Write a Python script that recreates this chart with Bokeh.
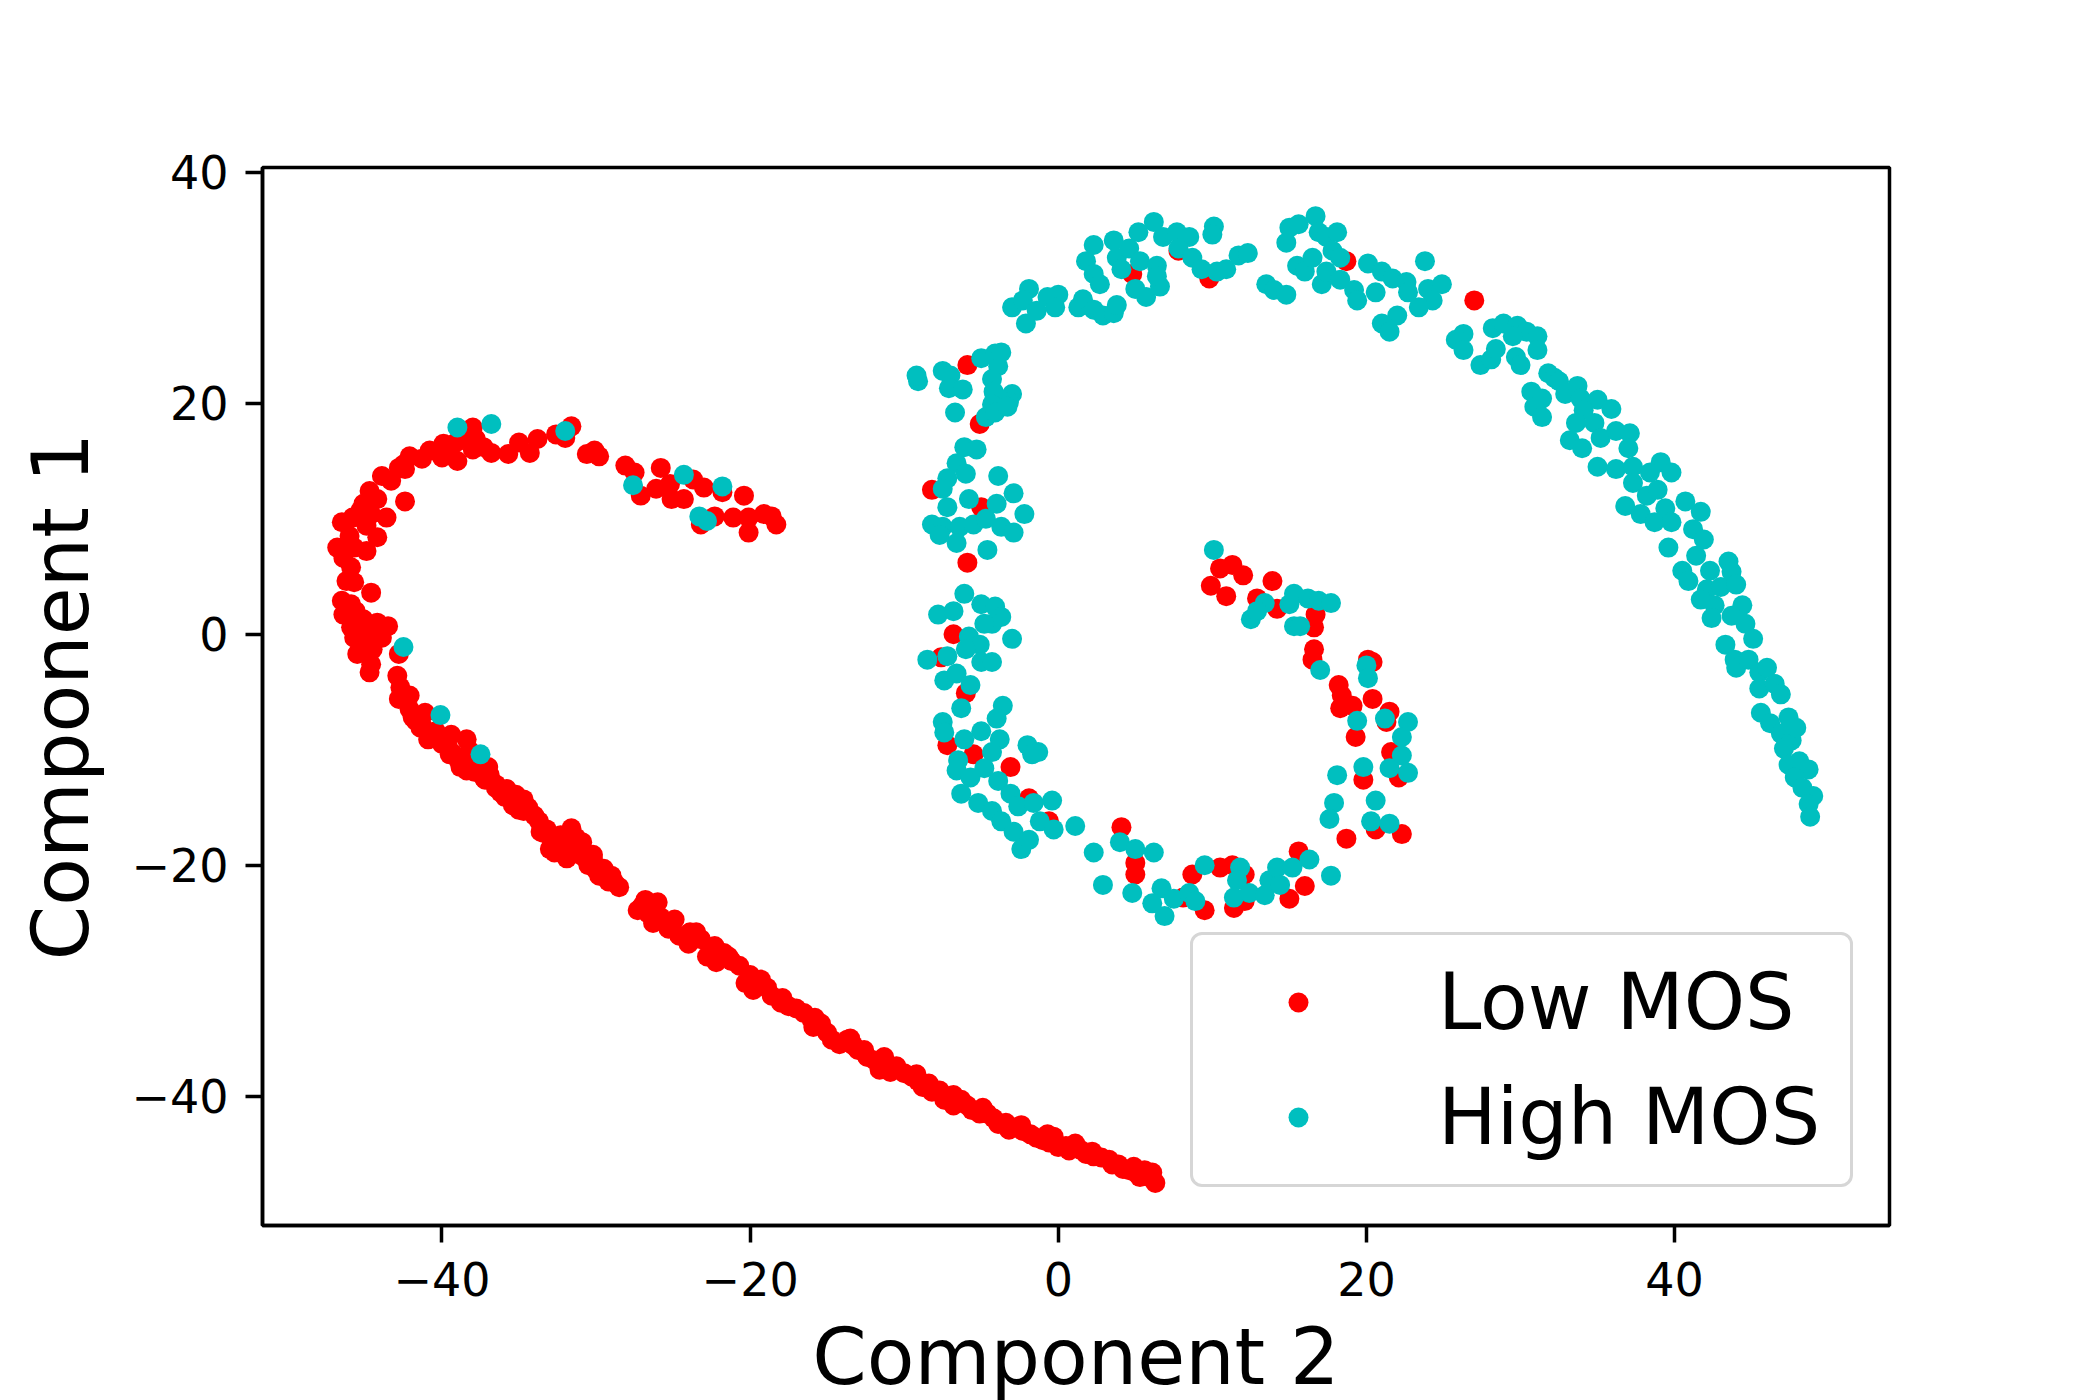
from bokeh.plotting import figure
from bokeh.models import Range1d, FixedTicker, Legend, LegendItem
from bokeh.embed import file_html
from bokeh.resources import INLINE

# ---------------- data ----------------
low_x = [
    -18.3, -18.6, -19.1, -20.1, -20.1, -20.4, -21.1, -21.8, -22.3, -23.2, -23.0, -23.7, -24.3, -25.1,
    -25.2, -25.8, -26.1, -27.1, -27.5, -28.1, -29.8, -30.6, -30.1, -31.6, -32.0, -32.6, -33.8, -34.3,
    -35.0, -35.7, -36.8, -38.0, -37.8, -38.0, -39.0, -39.1, -39.5, -40.0, -40.8, -41.3, -42.1, -42.5,
    -42.4, -42.8, -42.4, -43.3, -43.9, -44.7, -44.2, -45.1, -43.6, -44.6, -45.3, -45.8, -46.5, -44.9,
    -44.2, -46.0, -46.8, -45.7, -44.9, -46.4, -45.9, -46.2, -45.7, -44.6, -46.5, -45.9, -46.4, -45.6,
    -45.1, -45.9, -44.2, -43.5, -44.8, -45.7, -43.9, -45.1, -45.5, -44.5, -44.6, -44.7, -42.8, -42.9,
    -42.7, -42.8, -42.1, -42.1, -41.9, -41.1, -41.3, -40.4, -39.9, -39.4, -39.5, -38.7, -38.4, -38.2,
    -38.4, -37.6, -37.0, -37.3, -36.5, -35.8, -35.2, -34.7, -39.9, -38.4, -37.3,
    -41.4, -40.0, -38.9, -37.9, -36.5, -35.4, -34.0, -33.7, -33.0, -32.3, -31.6, -31.9, -30.9, -30.5,
    -29.5, -28.8, -27.0, -26.0, -26.3, -24.9, -24.6, -23.2, -22.8, -21.7, -20.7, -20.3, -19.3, -18.6,
    -17.5, -16.5, -15.4, -14.7, -13.7, -13.0, -11.9, -11.6, -10.5, -9.5, -8.8, -7.7, -7.4, -6.3,
    -5.6, -4.6, -3.9, -2.8, -1.8, -1.0, -0.3, 0.0, 1.1, 1.8, 2.8, 3.9, 4.6, 5.6, 6.3, 5.3,
    -33.4, -32.7, -31.2, -30.2, -34.8, -29.0,
    -40.8, -39.3, -38.3, -37.2, -35.9, -34.7, -33.2, -32.6, -31.3, -30.9, -30.0, -29.1, -28.5,
    -27.3, -26.6, -25.6, -25.3, -23.9, -24.0, -22.3, -22.2, -21.2, -20.0, -19.8, -18.9, -18.0, -17.0,
    -16.0, -15.9, -15.0, -14.2, -13.3, -12.4, -12.6, -11.2, -10.9, -10.0, -9.1, -8.2, -8.4, -7.0,
    -6.8, -5.9, -5.1, -4.2, -3.4, -3.2, -2.3, -1.4, -0.6, 0.5, 0.7, 1.4, 2.3, 3.3, 3.5, 4.2, 5.0,
    5.9, 6.1, 4.9, 2.2, -0.7, -2.4, -4.9, -6.8, -9.2, -11.3, -13.5, -15.8, -17.9, -19.9, -21.4,
    -23.5, -25.8, -26.8,
    -41.7, -40.9, -39.6, -38.8, -36.9, -36.2, -35.0, -34.4, -33.6, -32.9, -32.0, -31.5, -30.2, -29.8, -29.2,
    -5.9, -5.1, -8.2, -5.0, -5.9, -6.8, -7.6, -6.0, -7.2, -5.5, -3.1, -1.9, -0.6, 4.1, 5.0, 5.0,
    8.1, 9.5, 8.7, 10.5, 11.3, 12.1, 11.4, 12.1, 15.6, 15.0, 16.0,
    10.5, 11.3, 12.0, 9.9, 10.9, 13.9, 12.9, 14.2, 16.7, 16.6, 16.6, 16.5, 20.1, 20.4, 18.2, 18.4,
    18.3, 19.1, 20.4, 19.3, 21.5, 21.3, 21.6, 22.1, 19.8, 20.6, 22.3, 18.7,
    4.8, 7.8, 9.8, 18.7, 27.0,
]
low_y = [
    9.5, 10.2, 10.4, 8.8, 10.1, 12.0, 10.1, 12.3, 10.2, 9.5, 12.7, 13.4, 11.7, 11.7,
    13.0, 14.4, 12.6, 12.0, 14.0, 14.6, 15.4, 15.6, 15.9, 18.0, 17.0, 17.3, 16.9, 15.7,
    16.6, 15.6, 15.7, 17.9, 16.9, 16.0, 15.0, 16.6, 15.9, 15.3, 15.9, 15.2, 15.4, 14.7,
    14.3, 14.4, 11.5, 13.3, 13.7, 12.4, 11.7, 11.3, 10.1, 10.4, 10.7, 10.1, 9.7, 9.4,
    8.4, 8.5, 7.5, 7.5, 7.2, 6.6, 5.8, 4.6, 4.5, 3.6, 2.9, 2.6, 1.7, 2.0,
    1.3, 0.6, 1.0, 0.7, 0.3, -0.3, -0.3, -0.6, -1.7, -1.3, -2.6, -3.3, -1.7, -3.6,
    -4.6, -5.6, -5.3, -6.5, -7.2, -6.8, -7.9, -8.4, -9.2, -8.7, -10.4, -10.8, -9.1, -10.1,
    -11.8, -11.4, -11.5, -12.4, -13.0, -13.4, -13.9, -14.3, 16.5, 17.0, 16.2,
    -8.1, -9.5, -11.0, -11.9, -13.3, -14.8, -15.7, -16.2, -18.6, -17.4, -16.8, -19.4, -18.0, -20.0,
    -20.3, -21.5, -23.5, -23.2, -25.0, -24.7, -26.1, -26.4, -27.9, -27.6, -28.7, -30.2, -29.9, -31.3,
    -32.2, -32.8, -33.7, -35.1, -35.1, -36.0, -36.9, -37.7, -37.4, -38.3, -39.2, -39.5, -40.3, -40.3,
    -41.2, -41.5, -42.4, -42.7, -43.3, -43.8, -43.5, -44.4, -44.1, -45.0, -45.3, -45.9, -46.4, -46.4, -47.5, -47.0,
    -17.2, -18.9, -17.9, -19.1, -15.1, -20.9,
    -8.6, -10.3, -11.2, -12.6, -14.1, -15.3, -16.9, -18.0, -17.6, -19.2, -20.4, -21.0, -21.9,
    -23.9, -24.2, -24.9, -25.5, -25.8, -26.8, -27.0, -28.4, -28.3, -29.5, -30.8, -30.6, -31.9, -32.4,
    -33.4, -34.0, -34.5, -35.5, -35.6, -36.6, -36.0, -37.3, -37.9, -38.0, -38.7, -39.6, -38.9, -40.0,
    -40.8, -40.8, -41.5, -41.9, -42.3, -42.9, -43.0, -43.6, -44.0, -44.3, -44.7, -44.6, -45.2, -45.5, -45.9, -46.3, -46.6,
    -47.0, -46.6, -46.1, -44.8, -43.3, -42.5, -41.0, -39.9, -38.1, -36.6, -35.0, -33.2, -31.5, -29.9, -27.9,
    -25.8, -24.5, -23.0,
    -7.5, -9.1, -9.8, -11.5, -12.2, -13.7, -15.2, -15.0, -17.1, -17.7, -18.5, -19.0, -19.5, -20.9, -21.4,
    23.3, 18.2, 12.5, 11.0, 6.2, 0.0, -2.0, -5.1, -9.6, -10.4, -11.5, -14.2, -16.2, -16.7, -19.8, -20.8,
    -22.8, -23.9, -20.8, -20.2, -20.0, -20.8, -23.7, -23.1, -18.8, -22.9, -21.8,
    5.7, 6.0, 5.1, 4.2, 3.3, 4.6, 3.1, 2.2, 1.7, 0.6, -1.3, -2.2, -2.2, -2.4, -4.4, -5.3,
    -6.4, -6.2, -5.6, -8.9, -6.7, -7.6, -10.2, -12.4, -12.6, -16.9, -17.3, -17.7,
    31.2, 33.2, 30.8, 32.3, 28.9,
]

high_x = [
    -39.0, -36.8, -32.0, -27.6, -24.3, -21.8, -23.3, -22.8, -42.5, -40.1, -37.5,
    -9.1, -9.2, -7.5, -7.0, -7.1, -6.2, -6.7, -5.0, -4.1, -3.9, -4.3, -4.2, -4.3, -3.0, -3.2, -4.7,
    -4.1, -3.7, -3.3,
    -6.1, -5.3, -6.6, -6.0, -7.2, -7.5, -3.9, -2.9, -5.8, -7.2, -4.0, -2.2, -8.2, -7.5, -6.4, -5.5,
    -4.7, -3.7, -2.9, -7.7, -6.6, -4.6,
    -6.1, -7.8, -6.8, -5.0, -4.1, -3.7, -4.3, -4.8, -5.8, -5.1, -3.0, -8.5, -7.2, -6.0, -5.0, -4.3,
    -7.4, -6.6, -5.7,
    -3.6, -6.3, -4.0, -7.5, -7.4, -6.1, -5.0, -3.8, -6.5, -4.3, -2.0, -1.7, -1.3, -6.6, -5.7, -4.8,
    -3.9, -6.3, -5.2, -4.3, -3.7, -3.1, -2.6, -1.6, -2.9, -2.4, -1.9, -1.2, -0.4, -0.3, 1.1,
    2.3, 4.0, 5.0, 6.2, 2.9, 4.8, 6.7, 6.1, 6.9, 7.5, 8.5, 8.9, 9.5, 11.8, 11.6, 11.4, 12.4, 13.4,
    13.7, 14.2, 15.2, 16.3, 14.4, 17.7,
    10.1, 13.4, 12.5, 12.9, 15.3, 16.2, 16.9, 17.7, 15.0, 15.3, 15.7, 17.0, 20.0, 20.1, 19.4, 21.2,
    22.7, 22.3, 22.3, 21.5, 22.7, 19.8, 18.1, 17.9, 17.6, 20.6, 20.3, 21.5,
    -3.0, -2.1, -1.9, -2.3, -1.4, -0.7, 0.0, -0.2, 1.3, 1.6, 2.3, 2.9, 3.6, 3.8, 1.8, 2.3, 2.3, 2.7,
    3.6, 3.8, 4.1, 5.0, 5.7, 4.6, 5.3, 6.4, 6.6, 6.4, 5.2, 6.2, 6.8, 7.7, 8.5, 7.8, 8.7, 9.3, 10.1,
    10.0, 10.3, 10.9, 11.7, 12.3, 13.5, 14.0, 14.8,
    15.0, 14.8, 15.6, 16.7, 16.9, 17.4, 18.1, 15.5, 16.0, 16.5, 17.1, 17.8, 18.3, 17.4, 18.3, 19.2,
    19.4, 20.1, 21.0, 20.6, 21.7, 22.6, 22.7, 23.8, 24.0, 24.9, 24.3, 23.4, 22.0, 21.0, 21.5,
    26.3, 25.8, 26.3, 27.4, 28.1, 28.2, 28.9, 29.8, 30.4, 31.1, 31.1, 29.5, 28.4, 29.7, 30.0,
    31.8, 32.2, 30.7, 31.4, 30.9, 31.4, 32.5, 32.9, 33.7, 33.9, 35.0, 35.9, 34.1, 33.6, 33.2, 34.0,
    34.8, 35.2, 36.2, 37.1, 37.0, 35.0, 36.2, 37.3, 39.1, 39.8, 38.4, 37.3, 38.2, 38.9, 39.4, 36.8,
    37.8, 38.7, 39.8, 40.7, 41.7, 41.2, 41.9, 39.6, 41.4, 40.5, 40.9, 42.3, 43.5, 43.7, 42.1, 43.0,
    44.0, 41.7, 42.6, 44.4, 42.4, 43.7, 44.6, 45.1, 43.3, 43.9, 44.0, 44.8, 45.5, 46.0, 45.5, 46.5,
    46.9, 45.6, 46.2, 47.4, 46.9, 47.6, 47.9, 47.1, 47.4, 48.1, 48.7, 47.8, 48.3, 49.0, 48.7, 48.8,
]
high_y = [
    17.9, 18.2, 17.6, 12.9, 13.8, 12.8, 10.2, 9.8, -1.1, -7.0, -10.4,
    21.9, 22.4, 22.8, 22.4, 21.3, 21.2, 19.2, 23.9, 24.3, 23.2, 22.1, 21.0, 19.9, 20.8, 20.1, 18.8,
    19.2, 24.4, 19.7,
    16.2, 16.0, 14.8, 13.9, 13.5, 12.6, 13.7, 12.2, 11.7, 11.0, 11.3, 10.4, 9.5, 9.3, 9.3, 9.5,
    10.0, 9.3, 8.8, 8.6, 7.9, 7.3,
    3.5, 1.7, 2.0, 2.6, 2.4, 1.5, 0.9, 0.9, -0.2, -0.9, -0.4, -2.2, -1.9, -1.3, -2.4, -2.4,
    -4.0, -3.4, -4.4,
    -6.2, -6.4, -7.3, -7.6, -8.5, -9.1, -8.4, -9.1, -10.9, -10.2, -9.6, -10.4, -10.2, -11.8, -12.4, -11.6,
    -12.7, -13.8, -14.6, -15.3, -16.2, -13.8, -14.9, -14.6, -17.1, -18.6, -17.8, -16.2, -14.4, -16.9, -16.6,
    -18.9, -18.0, -18.6, -18.9, -21.7, -22.4, -22.0, -23.3, -24.4, -22.9, -22.4, -23.1, -20.0, -20.2, -21.3, -22.8, -22.4, -22.6,
    -21.3, -20.2, -20.2, -19.5, -21.7, -20.9,
    7.3, 2.7, 1.3, 2.0, 3.5, 3.1, 2.9, 2.7, 2.6, 0.7, 0.7, -3.1, -2.7, -3.8, -7.5, -7.3,
    -7.6, -8.9, -10.5, -11.6, -12.0, -11.5, -12.2, -14.6, -16.0, -14.4, -16.2, -16.4,
    28.3, 26.9, 29.9, 28.9, 28.0, 29.2, 29.4, 28.3, 28.3, 29.0, 28.1, 27.6, 27.8, 28.5, 32.3, 33.7, 31.2, 30.3,
    34.1, 32.6, 31.6, 29.9, 29.2, 33.4, 32.3, 31.9, 30.1, 31.0, 34.8, 35.7, 34.4, 34.8, 34.4, 33.4, 32.6, 31.6, 35.3,
    34.6, 31.4, 31.6, 32.8, 33.0, 30.3, 29.8, 29.4,
    35.2, 33.9, 35.5, 36.2, 34.8, 34.4, 34.8, 31.9, 31.4, 32.6, 30.3, 33.2, 32.6, 31.4, 30.7, 29.8,
    28.9, 32.1, 31.4, 29.6, 30.8, 30.5, 29.6, 32.3, 29.9, 30.3, 28.9, 28.3, 27.6, 26.9, 26.2,
    26.0, 25.5, 24.6, 23.3, 23.8, 26.5, 26.9, 26.7, 26.2, 25.8, 24.6, 25.8, 24.7, 24.0, 23.3,
    22.6, 22.2, 21.0, 20.4, 19.7, 18.8, 21.9, 20.8, 21.5, 20.4, 20.3, 19.5, 19.4, 18.3, 16.8, 16.1,
    18.3, 17.0, 17.6, 17.4, 16.1, 14.5, 14.3, 14.5, 14.9, 14.0, 14.0, 13.1, 12.0, 12.5, 10.9, 11.1,
    10.4, 9.7, 9.7, 11.5, 10.6, 9.1, 8.2, 7.5, 6.8, 5.5, 4.6, 5.5, 6.3, 5.4, 3.9, 4.1,
    4.3, 3.0, 2.5, 2.5, 1.4, 1.6, 0.9, -0.4, -0.9, -2.2, -2.9, -2.2, -3.3, -2.9, -4.7, -4.3,
    -5.2, -6.8, -7.7, -7.2, -8.6, -9.2, -8.1, -9.9, -11.3, -11.0, -11.7, -12.4, -13.3, -14.0, -14.7, -15.8,
]

x_ticks = [-40, -20, 0, 20, 40]
y_ticks = [-40, -20, 0, 20, 40]
x_label = "Component 2"
y_label = "Component 1"
series_names = ["Low MOS", "High MOS"]
series_colors = ["#ff0000", "#00bfbf"]

FONT = "DejaVu Sans"

p = figure(
    frame_width=1627, frame_height=1058,
    min_border_left=262, min_border_right=187, min_border_top=167, min_border_bottom=150,
    x_range=Range1d(-51.65, 53.95), y_range=Range1d(-51.19, 40.41),
    output_backend="svg", toolbar_location=None,
    background_fill_color="white", border_fill_color="white",
)

r_low = p.scatter(low_x, low_y, size=20, fill_color=series_colors[0], line_color=None)
r_high = p.scatter(high_x, high_y, size=20, fill_color=series_colors[1], line_color=None)

p.xgrid.visible = False
p.ygrid.visible = False
p.outline_line_color = "black"
p.outline_line_width = 3.5
p.outline_line_alpha = 1.0

def minus(v):
    return ("\u2212" + str(abs(v))) if v < 0 else str(v)

for ax, ticks in ((p.xaxis[0], x_ticks), (p.yaxis[0], y_ticks)):
    ax.ticker = FixedTicker(ticks=ticks)
    ax.major_label_overrides = {t: minus(t) for t in ticks}
    ax.axis_line_width = 3.5
    ax.axis_line_color = "black"
    ax.major_tick_line_width = 3.5
    ax.major_tick_out = 17
    ax.major_tick_in = 0
    ax.minor_tick_line_color = None
    ax.major_label_text_font = FONT
    ax.major_label_text_font_size = "46px"
    ax.major_label_text_color = "black"
    ax.axis_label_text_font = FONT
    ax.axis_label_text_font_size = "78px"
    ax.axis_label_text_font_style = "normal"
    ax.axis_label_text_color = "black"

p.xaxis[0].axis_label = x_label
p.yaxis[0].axis_label = y_label
p.xaxis[0].major_label_standoff = 19
p.yaxis[0].major_label_standoff = 17
p.xaxis[0].axis_label_standoff = 13
p.yaxis[0].axis_label_standoff = 22

legend = Legend(
    items=[LegendItem(label=series_names[0], renderers=[r_low]),
           LegendItem(label=series_names[1], renderers=[r_high])],
    location=(928, 38),
    margin=0, padding=22, spacing=25,
    glyph_width=166, glyph_height=50, label_height=90, label_standoff=57, label_width=390,
    label_text_font=FONT, label_text_font_size="78px", label_text_color="black",
    border_line_color="#d6d6d6", border_line_width=3.5, border_line_alpha=1.0,
    background_fill_color="white", background_fill_alpha=0.8,
)
if "border_radius" in Legend.properties():
    legend.border_radius = 12
p.add_layout(legend, "center")

open("out.html", "w").write(file_html(p, INLINE))
